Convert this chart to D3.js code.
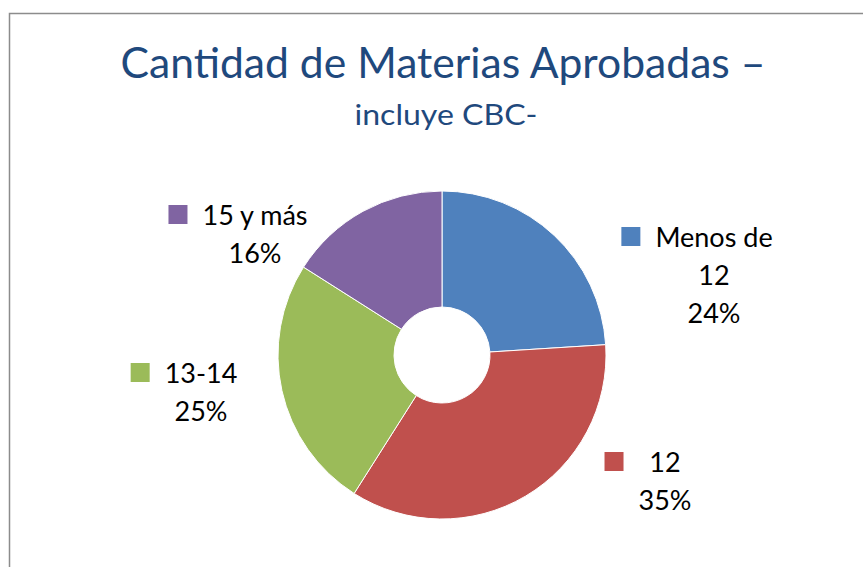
<!DOCTYPE html>
<html>
<head>
    <style>
        body { margin: 0; background: #fff; }
        .title { fill: #1f497d; font-family: Lato, sans-serif; }
        .lbl { font-family: Lato, sans-serif; font-size: 27px; fill: #000; text-anchor: middle; }
        .arc path { stroke: #fff; stroke-width: 1; }
    </style>
    <script src="https://d3js.org/d3.v7.min.js"></script>
</head>
<body>
    <svg width="863" height="567"></svg>
    <script>

        var categories = ["Menos de 12", "12", "13-14", "15 y más"];
        var values = [24, 35, 25, 16];
        var labelLines = [["Menos de", "12", "24%"], ["12", "35%"], ["13-14", "25%"], ["15 y más", "16%"]];
        var colors = ["#4f81bd", "#c0504d", "#9bbb59", "#8064a2"];

        // label block placement, relative to pie centre (block centre x, first baseline y)
        var labelPos = [[272, -108], [223, 117], [-241, 28], [-187, -130]];

        var svg = d3.select("svg"),
            cx = 442, cy = 355,
            radius = 164;

        svg.append("rect")
           .attr("x", 9.5).attr("y", 13.5)
           .attr("width", 880).attr("height", 600)
           .attr("fill", "none")
           .attr("stroke", "#8c8c8c")
           .attr("stroke-width", 1.5);

        svg.append("text")
           .attr("class", "title")
           .attr("x", 443).attr("y", 78)
           .attr("text-anchor", "middle")
           .style("font-size", "42px")
           .attr("textLength", 645)
           .attr("lengthAdjust", "spacingAndGlyphs")
           .text("Cantidad de Materias Aprobadas –");

        svg.append("text")
           .attr("class", "title")
           .attr("x", 446).attr("y", 125)
           .attr("text-anchor", "middle")
           .style("font-size", "29px")
           .attr("textLength", 183)
           .attr("lengthAdjust", "spacingAndGlyphs")
           .text("incluye CBC-");

        var g = svg.append("g")
                   .attr("transform", "translate(" + cx + "," + cy + ")");

        var pie = d3.pie().sort(null).value(function(d) { return d; });

        var path = d3.arc()
                     .outerRadius(radius)
                     .innerRadius(48);

        var color = d3.scaleOrdinal().domain(categories).range(colors);

        var arc = g.selectAll(".arc")
                   .data(pie(values))
                   .enter().append("g")
                   .attr("class", "arc");

        arc.append("path")
           .attr("d", path)
           .attr("fill", function(d, i) { return color(categories[i]); });

        var lg = g.selectAll(".lblg")
                  .data(categories)
                  .enter().append("g")
                  .attr("class", "lblg")
                  .attr("transform", function(d, i) {
                      return "translate(" + labelPos[i][0] + "," + labelPos[i][1] + ")";
                  });

        lg.each(function(d, i) {
            var sel = d3.select(this);
            var w = 0;
            labelLines[i].forEach(function(t, j) {
                var tx = sel.append("text")
                   .attr("class", "lbl")
                   .attr("x", 0)
                   .attr("y", j * 38)
                   .text(t);
                w = Math.max(w, tx.node().getComputedTextLength());
            });
            sel.append("rect")
               .attr("x", -w / 2 - 34)
               .attr("y", -20)
               .attr("width", 19).attr("height", 19)
               .attr("fill", color(d));
        });
    </script>
</body>
</html>
